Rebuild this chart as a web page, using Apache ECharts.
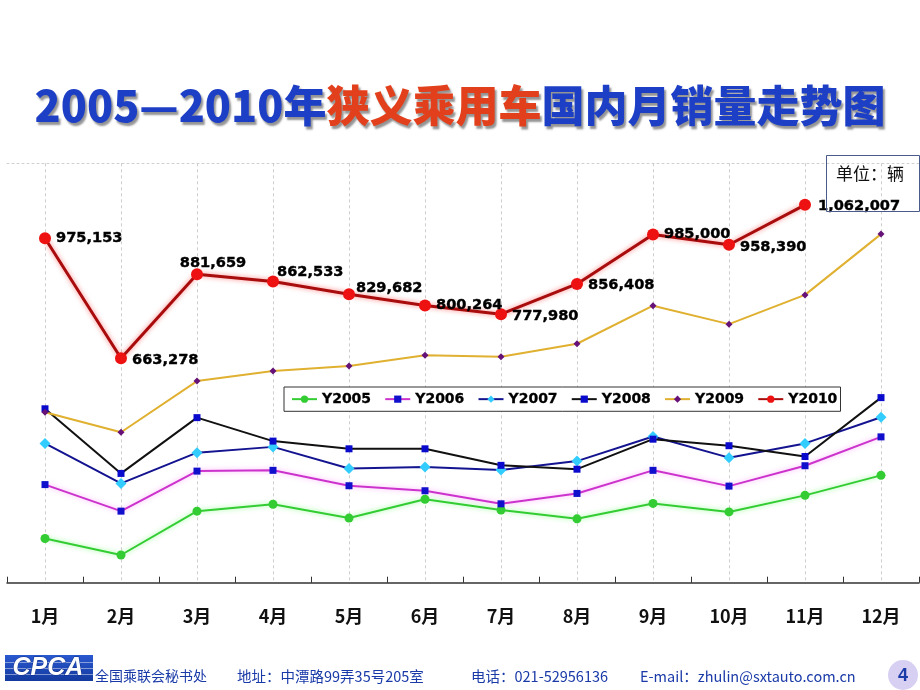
<!DOCTYPE html>
<html>
<head>
<meta charset="utf-8">
<script src="https://cdn.jsdelivr.net/npm/echarts@6/dist/echarts.min.js"></script>
<style>html,body{margin:0;padding:0;background:#fff;}#c{width:920px;height:690px;}</style>
</head>
<body>
<div id="c"></div>
<script>
const categories = ['1月','2月','3月','4月','5月','6月','7月','8月','9月','10月','11月','12月'];
const seriesNames = ['Y2005','Y2006','Y2007','Y2008','Y2009','Y2010'];
const y2005 = [195000, 152000, 266000, 284000, 248000, 297000, 269000, 246000, 286000, 264000, 307000, 359000];
const y2006 = [335000, 266000, 370000, 372000, 332000, 319000, 285000, 312000, 372000, 331000, 384000, 459000];
const y2007 = [442000, 338000, 418000, 433000, 377000, 381000, 373000, 396000, 460000, 405000, 442000, 510000];
const y2008 = [532000, 364000, 509000, 448000, 428000, 428000, 385000, 375000, 453000, 436000, 408000, 561000];
const y2009 = [523000, 471000, 604000, 630000, 643000, 671000, 667000, 701000, 800000, 752000, 828000, 986000];
const y2010 = [975153, 663278, 881659, 862533, 829682, 800264, 777980, 856408, 985000, 958390, 1062007, null];

// label placement styles for the Y2010 labels (not data)
const y2010LabelPos = ['right','right','top','right','right','right','right','right','right','right','right','right'];
const y2010LabelOff = [[0,0],[0,1.5],[16,7],[-7,-9],[-4,-6],[0,0],[0,2],[0,1.5],[0,0],[0,2],[2,1],[0,0]];

const chart = echarts.init(document.getElementById('c'));

function mkSeries(name, data, lineColor, glow, markColor, symbol, size, width) {
  return {
    name: name, type: 'line', data: data,
    xAxisIndex: 0, yAxisIndex: 0,
    symbol: symbol, symbolSize: size, showAllSymbol: true,
    lineStyle: {color: lineColor, width: width, shadowColor: glow || 'transparent', shadowBlur: glow ? 5 : 0},
    itemStyle: {color: markColor, borderWidth: 0},
    emphasis: {disabled: true},
    animation: false
  };
}

const s2010 = mkSeries('Y2010', y2010.map((v, i) => ({
  value: v,
  label: {position: y2010LabelPos[i], offset: y2010LabelOff[i]}
})), '#a80c0c', 'rgba(255,90,90,0.75)', '#ee1111', 'circle', 12, 3);
s2010.label = {
  show: true, color: '#000', fontWeight: 'bold', fontSize: 14.6,
  fontFamily: 'DejaVu Sans', distance: 5,
  textBorderColor: '#000', textBorderWidth: 0.4,
  formatter: p => (p.value == null ? '' : Number(p.value).toLocaleString('en-US'))
};

const option = {
  backgroundColor: '#fff',
  animation: false,
  title: {
    left: 'center', top: 76,
    text: '{a|2005—2010年}{b|狭义乘用车}{a|国内月销量走势图}',
    textStyle: {
      rich: {
        a: {fontFamily: 'Noto Sans CJK SC', fontWeight: 900, fontSize: 43, color: '#1d3fc6', lineHeight: 50,
            textShadowColor: 'rgba(60,60,60,0.55)', textShadowBlur: 2, textShadowOffsetX: 2, textShadowOffsetY: 3},
        b: {fontFamily: 'Noto Sans CJK SC', fontWeight: 900, fontSize: 43, color: '#e2401c', lineHeight: 50,
            textShadowColor: 'rgba(60,60,60,0.55)', textShadowBlur: 2, textShadowOffsetX: 2, textShadowOffsetY: 3}
      }
    }
  },
  legend: {
    data: seriesNames,
    left: 284, top: 387,
    padding: [5, 3, 5, 7],
    itemGap: 13, itemWidth: 25, itemHeight: 9,
    borderColor: '#333', borderWidth: 1, backgroundColor: '#fff',
    selectedMode: false,
    textStyle: {color: '#000', fontWeight: 'bold', fontSize: 14, fontFamily: 'DejaVu Sans',
                textBorderColor: '#000', textBorderWidth: 0.3}
  },
  grid: {left: 7, right: 1, top: 163.3, bottom: 107.3, containLabel: false},
  xAxis: [
    {
      type: 'category', data: categories, boundaryGap: true, position: 'bottom',
      axisLine: {lineStyle: {color: '#333', width: 1.5}},
      axisTick: {show: true, inside: true, length: 6, lineStyle: {color: '#333', width: 1}},
      axisLabel: {color: '#111', fontWeight: 'bold', fontSize: 18, fontFamily: 'Noto Sans CJK SC', margin: 24},
      splitLine: {show: false}
    },
    {
      type: 'category', data: categories, boundaryGap: true, position: 'top',
      axisLine: {show: true, lineStyle: {color: '#cfcfcf', type: [2, 3], width: 1}},
      axisTick: {show: true, alignWithLabel: true, inside: true, length: 419.4,
                 lineStyle: {color: '#cdcdcd', type: [3, 3], width: 1}},
      axisLabel: {show: false},
      splitLine: {show: false}
    }
  ],
  yAxis: {type: 'value', min: 80000, max: 1170000, show: false, splitLine: {show: false}},
  series: [
    mkSeries('Y2005', y2005, '#33cc33', 'rgba(120,255,120,0.8)', '#33cc33', 'circle', 9, 2),
    mkSeries('Y2006', y2006, '#cc33cc', 'rgba(255,150,255,0.8)', '#1010cc', 'rect', 7, 2),
    mkSeries('Y2007', y2007, '#141491', null, '#33ccff', 'diamond', 11, 2),
    mkSeries('Y2008', y2008, '#111111', null, '#0a0acc', 'rect', 7, 2),
    mkSeries('Y2009', y2009, '#e0b030', null, '#661177', 'diamond', 7, 2),
    s2010
  ],
  graphic: [
    // unit box
    {type: 'rect', left: 826, top: 155, shape: {width: 93, height: 56},
     style: {fill: 'rgba(255,255,255,0)', stroke: '#4a5a8a', lineWidth: 1}, z: 100},
    {type: 'text', left: 836, top: 165, style: {text: '单位：辆', fontSize: 17, fontFamily: 'Noto Sans CJK SC', fill: '#111'}, z: 101},
    // footer logo
    {type: 'rect', left: 5, top: 655, shape: {width: 88, height: 26},
     style: {fill: new echarts.graphic.LinearGradient(0, 0, 0, 1, [{offset: 0, color: '#2a58d0'}, {offset: 1, color: '#133a9e'}])}, z: 100},
    {type: 'rect', left: 5, top: 662, shape: {width: 88, height: 1}, style: {fill: 'rgba(255,255,255,0.45)'}, z: 101},
    {type: 'rect', left: 5, top: 668, shape: {width: 88, height: 1}, style: {fill: 'rgba(255,255,255,0.45)'}, z: 101},
    {type: 'rect', left: 5, top: 674, shape: {width: 88, height: 1}, style: {fill: 'rgba(255,255,255,0.45)'}, z: 101},
    {type: 'text', left: 12, top: 655, style: {text: 'CPCA', fontSize: 25, fontStyle: 'italic', fontWeight: 'bold', fontFamily: 'Liberation Sans',
      fill: '#ffffff', stroke: '#0e2f8a', lineWidth: 1}, z: 102},
    // footer texts
    {type: 'text', left: 95, top: 669, style: {text: '全国乘联会秘书处', fontSize: 14, fontFamily: 'Noto Sans CJK SC', fill: '#1a3aa8'}, z: 100},
    {type: 'text', left: 237, top: 669, style: {text: '地址：中潭路99弄35号205室', fontSize: 14.5, fontFamily: 'Noto Sans CJK SC', fill: '#1a3aa8'}, z: 100},
    {type: 'text', left: 471, top: 669, style: {text: '电话：021-52956136', fontSize: 14.5, fontFamily: 'Noto Sans CJK SC', fill: '#1a3aa8'}, z: 100},
    {type: 'text', left: 640, top: 669, style: {text: 'E-mail：zhulin@sxtauto.com.cn', fontSize: 14.5, fontFamily: 'Noto Sans CJK SC', fill: '#1a3aa8'}, z: 100},
    // page number
    {type: 'circle', shape: {cx: 903, cy: 675, r: 15}, style: {fill: '#d8d0f2'}, z: 100},
    {type: 'text', x: 903, y: 676, style: {text: '4', fontSize: 18, fontWeight: 'bold', fontFamily: 'Liberation Sans', fill: '#1a3aa8', align: 'center', verticalAlign: 'middle'}, z: 101}
  ]
};
chart.setOption(option);
</script>
</body>
</html>
